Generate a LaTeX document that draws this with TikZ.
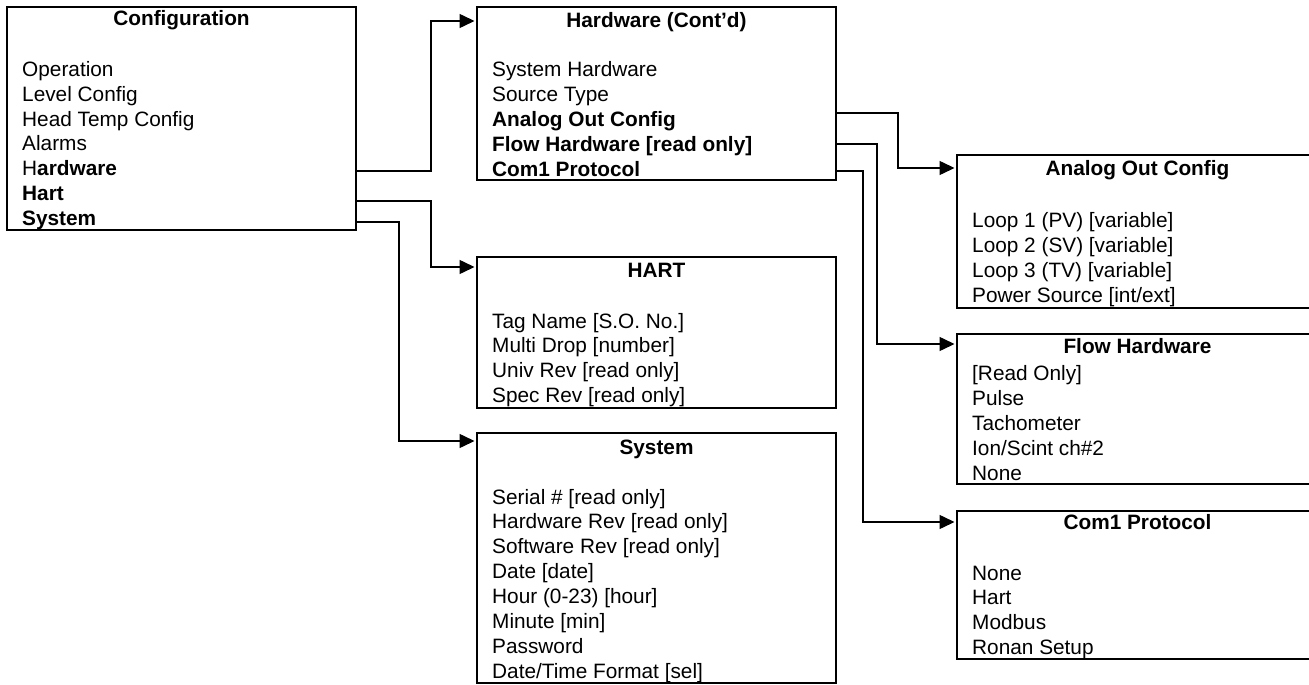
\documentclass[tikz,border=0pt]{standalone}
\usepackage{fontspec}
\setmainfont{Liberation Sans}
\usetikzlibrary{arrows.meta,fit}

% one row of menu entries per node, named <prefix>-<n>
\newcommand\menuitems[5]{%
  \foreach \txt [count=\n] in {#5} {%
    \node[item] (#1-\n) at (#2,{#3+#4*(\n-1)}) {\txt};%
  }%
}

\begin{document}
\begin{tikzpicture}[x=1pt,y=-1pt,
  box/.style={draw, line width=2pt, inner sep=0pt},
  item/.style={anchor=base west, inner sep=0pt, font=\fontsize{20.8}{25}\selectfont},
  head/.style={anchor=base, inner sep=0pt, font=\fontsize{20.8}{25}\selectfont\bfseries},
  link/.style={line width=1.5pt, shorten >=1.5pt, -{Triangle[length=15pt,width=14pt]}},
]
\useasboundingbox (0,0) rectangle (1309,685);
\clip (0,0) rectangle (1309,685);

% menu boxes
\node[box, fit={(7,7) (356,230)}]     (cfg)  {};
\node[box, fit={(477,7) (836,180)}]   (hw)   {};
\node[box, fit={(477,257) (836,408)}] (hart) {};
\node[box, fit={(477,433) (836,683)}] (sys)  {};
\node[box, fit={(957,155) (1318,308)}] (aoc) {};
\node[box, fit={(957,334) (1318,484)}] (flow) {};
\node[box, fit={(957,511) (1318,659)}] (com)  {};

% titles
\node[head] (cfg-t)  at ([yshift=-20pt]cfg.north)  {Configuration};
\node[head] (hw-t)   at ([yshift=-22pt]hw.north)   {Hardware (Cont’d)};
\node[head] (hart-t) at ([yshift=-21pt]hart.north) {HART};
\node[head] (sys-t)  at ([yshift=-22pt]sys.north)  {System};
\node[head] (aoc-t)  at ([yshift=-21pt]aoc.north)  {Analog Out Config};
\node[head] (flow-t) at ([yshift=-20pt]flow.north) {Flow Hardware};
\node[head] (com-t)  at ([yshift=-19pt]com.north)  {Com1 Protocol};

% entries
\menuitems{cfg}{22}{76.5}{24.8}{Operation, Level Config, Head Temp Config, Alarms,
  H\textbf{ardware}, \textbf{Hart}, \textbf{System}}
\menuitems{hw}{492}{77}{24.8}{System Hardware, Source Type, \textbf{Analog Out Config},
  \textbf{Flow Hardware [read only]}, \textbf{Com1 Protocol}}
\menuitems{hart}{492}{328}{24.9}{Tag Name [S.O. No.], Multi Drop [number],
  Univ Rev [read only], Spec Rev [read only]}
\menuitems{sys}{492}{504}{24.9}{Serial \# [read only], Hardware Rev [read only],
  Software Rev [read only], Date [date], Hour (0-23) [hour], Minute [min],
  Password, Date/Time Format [sel]}
\menuitems{aoc}{972}{227}{25}{Loop 1 (PV) [variable], Loop 2 (SV) [variable],
  Loop 3 (TV) [variable], Power Source [int/ext]}
\menuitems{flow}{972}{380}{25}{{[Read Only]}, Pulse, Tachometer, Ion/Scint ch\#2, None}
\menuitems{com}{972}{580}{24.8}{None, Hart, Modbus, Ronan Setup}

% connectors from the configuration menu
\draw[link] ([yshift=-165pt]cfg.north east) -| ([xshift=-45pt,yshift=-15pt]hw.north west)
  -- ([yshift=-15pt]hw.north west);
\draw[link] ([yshift=-195pt]cfg.north east) -| ([xshift=-45pt,yshift=-11pt]hart.north west)
  -- ([yshift=-11pt]hart.north west);
\draw[link] ([yshift=-216pt]cfg.north east) -| ([xshift=-77pt,yshift=-9pt]sys.north west)
  -- ([yshift=-9pt]sys.north west);

% connectors from the hardware menu
\draw[link] ([yshift=-107pt]hw.north east) -| ([xshift=-58pt,yshift=-14pt]aoc.north west)
  -- ([yshift=-14pt]aoc.north west);
\draw[link] ([yshift=-138pt]hw.north east) -| ([xshift=-79pt,yshift=-11pt]flow.north west)
  -- ([yshift=-11pt]flow.north west);
\draw[link] ([yshift=-165pt]hw.north east) -| ([xshift=-93pt,yshift=-12pt]com.north west)
  -- ([yshift=-12pt]com.north west);
\end{tikzpicture}
\end{document}
